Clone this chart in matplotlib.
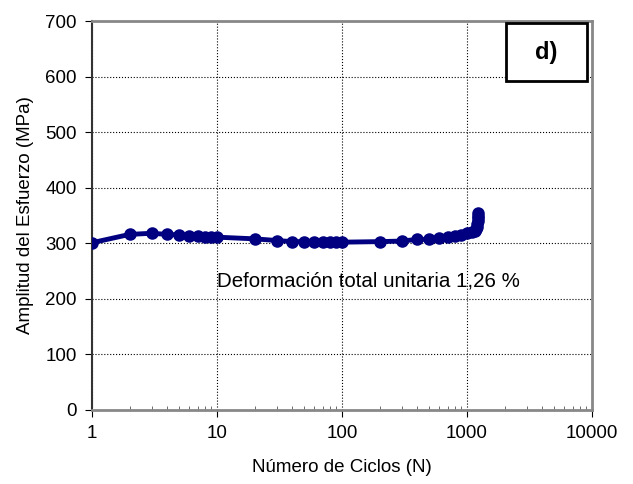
import numpy as np
import matplotlib
matplotlib.use("Agg")
import matplotlib.pyplot as plt
from matplotlib.patches import Rectangle
from matplotlib.ticker import LogLocator, NullFormatter, FixedLocator

plt.rcParams['font.family'] = ['Liberation Sans', 'DejaVu Sans']

# cycles vs. stress amplitude
ciclos = [1, 2, 3, 4, 5, 6, 7, 8, 9, 10,
          20, 30, 40, 50, 60, 70, 80, 90, 100,
          200, 300, 400, 500, 600, 700, 800, 900, 1000,
          1100, 1150, 1180, 1200, 1210, 1220, 1225, 1230, 1235]
esfuerzo = [301, 316, 318, 316, 315, 314, 313, 312, 312, 311,
            308, 305, 303, 303, 303, 302, 302, 302, 302,
            303, 304, 307, 307, 309, 311, 313, 315, 318,
            320, 322, 325, 330, 335, 340, 345, 350, 355]

x_ticks = [1, 10, 100, 1000, 10000]
x_labels = ['1', '10', '100', '1000', '10000']
y_ticks = [0, 100, 200, 300, 400, 500, 600, 700]

fig = plt.figure(figsize=(6.33, 4.84), dpi=100)
ax = fig.add_axes([92 / 633, 1 - 410 / 484, 500 / 633, 389 / 484])

ax.plot(ciclos, esfuerzo, color='#000080', lw=3.5, marker='o', ms=8,
        solid_joinstyle='round', zorder=3)

ax.set_xscale('log')
ax.set_xlim(1, 10000)
ax.set_ylim(0, 700)
ax.xaxis.set_major_locator(FixedLocator(x_ticks))
ax.set_xticklabels(x_labels)
ax.xaxis.set_minor_locator(LogLocator(base=10, subs=np.arange(2, 10)))
ax.xaxis.set_minor_formatter(NullFormatter())
ax.set_yticks(y_ticks)

ax.grid(True, which='major', color='black', linestyle=':', linewidth=0.8)
ax.tick_params(axis='both', which='major', labelsize=13.5, length=5,
               direction='out', pad=6)
ax.tick_params(axis='x', which='minor', length=3, direction='in', color='#555555')

for side in ['top', 'right', 'bottom']:
    ax.spines[side].set_color('#888888')
    ax.spines[side].set_linewidth(2)
ax.spines['left'].set_color('#333333')
ax.spines['left'].set_linewidth(1.5)

ax.set_xlabel('Número de Ciclos (N)', fontsize=13.5, labelpad=12)
ax.set_ylabel('Amplitud del Esfuerzo (MPa)', fontsize=13.5, labelpad=8)

ax.text(10, 232, 'Deformación total unitaria 1,26 %', fontsize=14.8,
        ha='left', va='center')

# panel label box
bx0, by0 = (506 - 92) / 500, (410 - 81) / 389
bw, bh = 81 / 500, 58 / 389
ax.add_patch(Rectangle((bx0, by0), bw, bh, transform=ax.transAxes,
                       fc='white', ec='black', lw=2, zorder=5, clip_on=False))
ax.text(bx0 + bw / 2, by0 + bh / 2, 'd)', transform=ax.transAxes,
        fontsize=17, fontweight='bold', ha='center', va='center', zorder=6)

fig.savefig('out.png', dpi=100)
